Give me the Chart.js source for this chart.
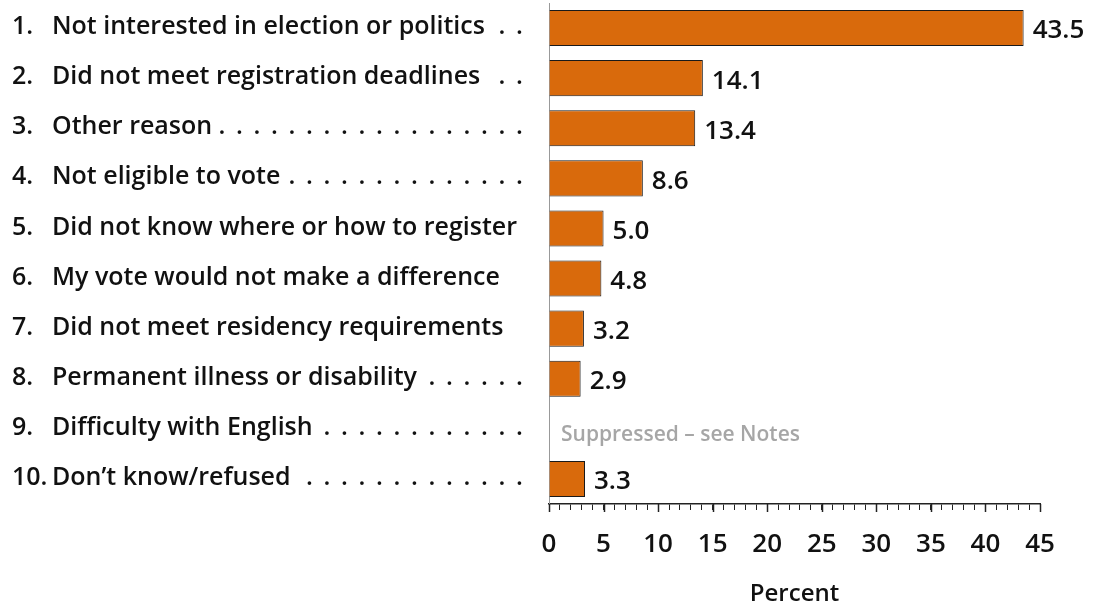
<!DOCTYPE html>
<html>
<head>
<meta charset="utf-8">
<script src="https://cdn.jsdelivr.net/npm/chart.js@4/dist/chart.umd.min.js"></script>
<style>
  body { margin: 0; background: #fff; }
  #wrap { width: 1100px; height: 607px; }
</style>
</head>
<body>
<div id="wrap"><canvas id="reasonsBar" width="1100" height="607"></canvas></div>
<script>
// reasons for not registering, percent of respondents
var itemNumbers = ['1.', '2.', '3.', '4.', '5.', '6.', '7.', '8.', '9.', '10.'];
var reasons = [
    'Not interested in election or politics',
    'Did not meet registration deadlines',
    'Other reason',
    'Not eligible to vote',
    'Did not know where or how to register',
    'My vote would not make a difference',
    'Did not meet residency requirements',
    'Permanent illness or disability',
    'Difficulty with English',
    'Don\u2019t know/refused'
];
var percents = [43.5, 14.1, 13.4, 8.6, 5.0, 4.8, 3.2, 2.9, null, 3.3];
var suppressedText = 'Suppressed \u2013 see Notes';
var axisMax = 45;

var labelFont = '600 25px "Open Sans"';

// row labels with dot leaders, drawn in the left margin
var rowLabels = {
    id: 'rowLabels',
    afterDraw: function (chart) {
        var ctx = chart.ctx;
        var yScale = chart.scales.y;
        ctx.save();
        ctx.font = labelFont;
        ctx.fillStyle = '#111';
        ctx.textBaseline = 'middle';
        ctx.textAlign = 'left';
        reasons.forEach(function (reason, i) {
            var y = yScale.getPixelForValue(i) - 1;
            ctx.fillText(itemNumbers[i], 12, y);
            ctx.fillText(reason, 52, y);
            var textEnd = 52 + ctx.measureText(reason).width;
            // long lines run right up to the bars, no leader there
            if (textEnd > 495) return;
            for (var x = 516; x > textEnd + 6; x -= 17.5) {
                ctx.fillText('.', x, y);
            }
        });
        ctx.restore();
    }
};

// value at the end of each bar, note for the suppressed row
var barValues = {
    id: 'barValues',
    afterDatasetsDraw: function (chart) {
        var ctx = chart.ctx;
        var meta = chart.getDatasetMeta(0);
        ctx.save();
        ctx.textBaseline = 'middle';
        ctx.textAlign = 'left';
        meta.data.forEach(function (bar, i) {
            if (percents[i] === null) {
                ctx.font = '600 21px "Open Sans"';
                ctx.fillStyle = '#a6a6a6';
                ctx.fillText(suppressedText, chart.chartArea.left + 12, chart.scales.y.getPixelForValue(i) + 6);
                return;
            }
            ctx.font = '600 26px "Open Sans"';
            ctx.fillStyle = '#111';
            ctx.fillText(percents[i].toFixed(1), bar.x + 9, bar.y + 3);
        });
        ctx.restore();
    }
};

// major ticks (every 5) a little longer than the minor ones
var majorTicks = {
    id: 'majorTicks',
    afterDraw: function (chart) {
        var ctx = chart.ctx;
        var xScale = chart.scales.x;
        ctx.save();
        ctx.strokeStyle = '#222';
        ctx.lineWidth = 1.5;
        for (var v = 0; v <= axisMax; v += 5) {
            var px = Math.round(xScale.getPixelForValue(v)) + 0.5;
            ctx.beginPath();
            ctx.moveTo(px, xScale.top);
            ctx.lineTo(px, xScale.top + 8);
            ctx.stroke();
        }
        ctx.restore();
    }
};

var ctx = document.getElementById('reasonsBar').getContext('2d');
var chart = new Chart(ctx, {
    type: 'bar',
    data: {
        labels: reasons,
        datasets: [{
            data: percents,
            backgroundColor: '#d96a0c',
            borderColor: '#1a1a1a',
            borderWidth: 1,
            barPercentage: 0.72,
            categoryPercentage: 1
        }]
    },
    options: {
        indexAxis: 'y',
        responsive: false,
        animation: false,
        layout: { padding: { left: 549, top: 3, right: 60, bottom: 0 } },
        plugins: {
            legend: { display: false },
            tooltip: { enabled: false }
        },
        scales: {
            x: {
                min: 0,
                max: axisMax,
                afterFit: function (scale) { scale.height = 103; },
                ticks: {
                    stepSize: 1,
                    autoSkip: false,
                    maxRotation: 0,
                    padding: 19,
                    color: '#111',
                    font: { family: 'Open Sans', size: 26, weight: '600' },
                    callback: function (v) { return v % 5 === 0 ? v : ''; }
                },
                grid: { drawOnChartArea: false, tickLength: 6, color: '#222' },
                border: { color: '#222', width: 1.5 },
                title: {
                    display: true,
                    text: 'Percent',
                    color: '#111',
                    font: { family: 'Open Sans', size: 24, weight: '600', lineHeight: 1.05 },
                    padding: { top: 0, bottom: 0 }
                }
            },
            y: {
                ticks: { display: false },
                grid: { display: false, drawTicks: false },
                border: { color: '#999', width: 1 }
            }
        }
    },
    plugins: [rowLabels, barValues, majorTicks]
});
</script>
</body>
</html>
